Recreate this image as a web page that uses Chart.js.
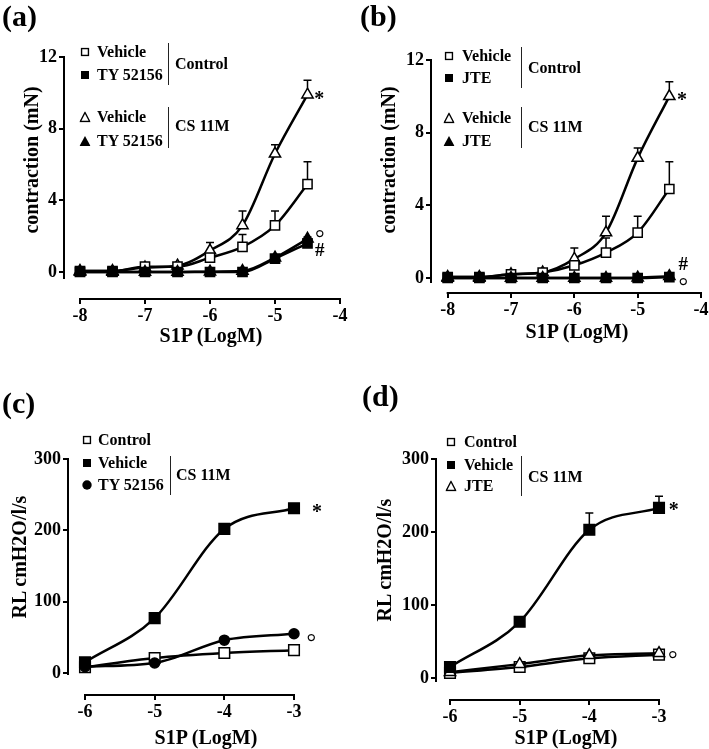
<!DOCTYPE html>
<html><head><meta charset="utf-8">
<script src="https://cdn.jsdelivr.net/npm/chart.js@4.4.1/dist/chart.umd.min.js"></script>
<style>
html,body{margin:0;padding:0;background:#fff;}
body{width:709px;height:749px;position:relative;overflow:hidden;font-family:'Liberation Serif','Times New Roman',serif;font-weight:bold;color:#000;}
canvas{position:absolute;}
.t{position:absolute;white-space:nowrap;line-height:1;transform:translateY(-50%);}
.c{position:absolute;white-space:nowrap;line-height:1;transform:translate(-50%,-50%);}
.r{position:absolute;white-space:nowrap;line-height:1;transform:translate(-50%,-50%) rotate(-90deg);}
.br{position:absolute;border-left:1.5px solid #222;width:0;}
.mk{position:absolute;transform:translate(-50%,-50%);}
</style></head><body>
<script>
// ---------------- data ----------------
const xContraction = [-8, -7.5, -7, -6.5, -6, -5.5, -5, -4.5];
const xTicksContraction = [-8, -7, -6, -5, -4];
const yTicksContraction = [0, 4, 8, 12];
const xRL = [-6, -5, -4, -3];
const xTicksRL = [-6, -5, -4, -3];
const yTicksRL = [0, 100, 200, 300];

// (a) TY 52156
const aControlVehicle    = [0.05, 0.05, 0.3, 0.3, 0.8, 1.4, 2.6, 4.9];
const aControlVehicleErr = [0, 0, 0.1, 0.1, 0.3, 0.7, 0.8, 1.25];
const aControlTY         = [0, 0, 0, 0, 0, 0, 0.75, 1.6];
const aControlTYErr      = [0, 0, 0, 0, 0, 0, 0.1, 0.15];
const aCSVehicle         = [0.05, 0.05, 0.25, 0.35, 1.2, 2.6, 6.6, 9.9];
const aCSVehicleErr      = [0, 0, 0.1, 0.1, 0.45, 0.8, 0.5, 0.8];
const aCSTY              = [0, 0, 0, 0, 0.02, 0.05, 0.8, 1.85];
const aCSTYErr           = [0, 0, 0, 0, 0, 0, 0.1, 0.1];

// (b) JTE
const bControlVehicle    = [0.05, 0.05, 0.2, 0.3, 0.7, 1.4, 2.5, 4.9];
const bControlVehicleErr = [0, 0, 0.1, 0.1, 0.3, 0.8, 0.9, 1.5];
const bControlJTE        = [0, 0, 0, 0, 0, 0, 0, 0.05];
const bCSVehicle         = [0.05, 0.05, 0.2, 0.3, 1.05, 2.5, 6.6, 10.0];
const bCSVehicleErr      = [0, 0, 0.1, 0.1, 0.6, 0.9, 0.55, 0.8];
const bCSJTE             = [0, 0, 0, 0, 0, 0, 0.02, 0.1];

// (c) RL, TY 52156
const cControl    = [8, 21, 28, 32];
const cVehicle    = [15, 77, 202, 231];
const cVehicleErr = [0, 2, 5, 3];
const cTY         = [9, 14, 46, 55];

// (d) RL, JTE
const dControl    = [7, 15, 27, 32];
const dVehicle    = [15, 77, 203, 233];
const dVehicleErr = [0, 3, 23, 16];
const dJTE        = [8, 19, 31, 34];

// significance marks (data coordinates)
const aMarks = [{t:'*', x:-4.32, y:9.9}, {t:'°', x:-4.31, y:2.25}, {t:'#', x:-4.31, y:1.3}];
const bMarks = [{t:'*', x:-4.30, y:10.0}, {t:'#', x:-4.28, y:0.85}, {t:'°', x:-4.28, y:-0.1}];
const cMarks = [{t:'*', x:-2.67, y:232}, {t:'°', x:-2.75, y:52}];
const dMarks = [{t:'*', x:-2.79, y:235}, {t:'°', x:-2.80, y:34}];

// ---------------- rendering ----------------
const FONT = "'Liberation Serif','Times New Roman',serif";
Chart.defaults.font.family = FONT;
Chart.defaults.color = '#000';

const axesPlugin = {
  id: 'prismAxes',
  beforeDatasetsDraw(chart, args, opts) {
    const {ctx, chartArea} = chart;
    const x = chart.scales.x, y = chart.scales.y;
    ctx.save();
    ctx.strokeStyle = '#000';
    ctx.lineWidth = 2;
    ctx.beginPath();
    ctx.moveTo(chartArea.left, chartArea.top - 1);
    ctx.lineTo(chartArea.left, y.getPixelForValue(opts.yLineEnd));
    ctx.stroke();
    const xt = opts.xTicks;
    ctx.beginPath();
    ctx.moveTo(x.getPixelForValue(xt[0]) - 1, chartArea.bottom);
    ctx.lineTo(x.getPixelForValue(xt[xt.length - 1]) + 1, chartArea.bottom);
    ctx.stroke();
    ctx.lineWidth = 1.5;
    chart.data.datasets.forEach(ds => {
      if (!ds.errors) return;
      ds.data.forEach((p, j) => {
        const e = ds.errors[j];
        if (!e) return;
        const px = x.getPixelForValue(p.x), py = y.getPixelForValue(p.y), pt = y.getPixelForValue(p.y + e);
        ctx.beginPath();
        ctx.moveTo(px, py); ctx.lineTo(px, pt);
        ctx.moveTo(px - 4, pt); ctx.lineTo(px + 4, pt);
        ctx.stroke();
      });
    });
    ctx.restore();
  }
};

function series(xs, ys, errs, style, filled, radius) {
  return {
    data: xs.map((x, i) => ({x: x, y: ys[i]})),
    errors: errs,
    pointStyle: style,
    pointRadius: radius,
    pointHoverRadius: radius,
    pointBackgroundColor: filled ? '#000' : '#fff',
    pointBorderColor: '#000',
    pointBorderWidth: 1.5,
    borderColor: '#000',
    borderWidth: 2.5,
    cubicInterpolationMode: 'monotone',
    fill: false,
    clip: false
  };
}

function el(cls, html, left, top, extra) {
  const d = document.createElement('div');
  d.className = cls;
  d.innerHTML = html;
  d.style.left = left + 'px';
  d.style.top = top + 'px';
  if (extra) Object.assign(d.style, extra);
  document.body.appendChild(d);
  return d;
}

function markerSVG(kind, s) {
  let shape;
  if (kind === 'sqOpen') shape = `<rect x="1" y="1" width="${s-2}" height="${s-2}" fill="#fff" stroke="#000" stroke-width="1.5"/>`;
  else if (kind === 'sqFill') shape = `<rect x="0.5" y="0.5" width="${s-1}" height="${s-1}" fill="#000"/>`;
  else if (kind === 'triOpen') shape = `<polygon points="${s/2},1 ${s-0.8},${s-1} 0.8,${s-1}" fill="#fff" stroke="#000" stroke-width="1.4"/>`;
  else if (kind === 'triFill') shape = `<polygon points="${s/2},0.5 ${s},${s-0.5} 0,${s-0.5}" fill="#000"/>`;
  else shape = `<circle cx="${s/2}" cy="${s/2}" r="${s/2-0.3}" fill="#000"/>`;
  return `<svg width="${s}" height="${s}" style="display:block">${shape}</svg>`;
}

const markStyle = {'*': {size: 20, dy: 3, w: 'bold'}, '°': {size: 24, dy: 6, w: 'normal'}, '#': {size: 19, dy: 0, w: 'bold'}};

function buildPanel(p) {
  const cv = document.createElement('canvas');
  cv.width = p.box.w; cv.height = p.box.h;
  cv.style.left = p.box.left + 'px'; cv.style.top = p.box.top + 'px';
  cv.style.width = p.box.w + 'px'; cv.style.height = p.box.h + 'px';
  document.body.appendChild(cv);
  const aL = p.area.left - p.box.left, aR = p.area.right - p.box.left;
  const aT = p.area.top - p.box.top, aB = p.area.bottom - p.box.top;
  const XH = 32;
  const kx = (p.x.v1 - p.x.v0) / (p.x.p1 - p.x.p0);
  const ky = (p.y.v1 - p.y.v0) / (p.y.p1 - p.y.p0);
  const xmin = p.x.v0 + (p.area.left - p.x.p0) * kx, xmax = p.x.v0 + (p.area.right - p.x.p0) * kx;
  const ymin = p.y.v0 + (p.area.bottom - p.y.p0) * ky, ymax = p.y.v0 + (p.area.top - p.y.p0) * ky;
  const yLineEnd = p.y.v0 + (p.yLineEndPx - p.y.p0) * ky;
  const tickFont = {family: FONT, size: 18, weight: 'bold'};
  const gridOpts = {display: true, drawOnChartArea: false, drawTicks: true, tickLength: 5, tickWidth: 2, tickColor: '#000', color: '#000', lineWidth: 2};
  const chart = new Chart(cv, {
    type: 'line',
    data: {datasets: p.datasets},
    options: {
      responsive: false, animation: false, devicePixelRatio: 1,
      events: [],
      layout: {padding: {left: 0, top: aT, right: p.box.w - aR, bottom: p.box.h - aB - XH}},
      plugins: {legend: {display: false}, tooltip: {enabled: false}, prismAxes: {yLineEnd: yLineEnd, xTicks: p.xTicks}},
      scales: {
        x: {
          type: 'linear', min: xmin, max: xmax,
          afterBuildTicks: s => { s.ticks = p.xTicks.map(v => ({value: v})); },
          afterFit: s => { s.height = XH; s.paddingLeft = 0; s.paddingRight = 0; },
          grid: gridOpts, border: {display: false},
          ticks: {font: tickFont, color: '#000', padding: 2, maxRotation: 0, autoSkip: false, callback: v => String(v)}
        },
        y: {
          type: 'linear', min: ymin, max: ymax,
          afterBuildTicks: s => { s.ticks = p.yTicks.map(v => ({value: v})); },
          afterFit: s => { s.width = aL; s.paddingTop = 0; s.paddingBottom = 0; },
          grid: gridOpts, border: {display: false},
          ticks: {font: tickFont, color: '#000', padding: 2, autoSkip: false, callback: v => String(v)}
        }
      }
    },
    plugins: [axesPlugin]
  });

  el('t', p.letter, p.letterPos[0], p.letterPos[1], {fontSize: '30px'});
  el('c', 'S1P (LogM)', p.xTitle[0], p.xTitle[1], {fontSize: '20px'});
  el('r', p.yTitleText, p.yTitle[0], p.yTitle[1], {fontSize: '20px'});

  const L = p.legend;
  L.items.forEach((it, i) => {
    el('mk', markerSVG(it.m, it.m.startsWith('tri') ? 11 : (it.m === 'dot' ? 10 : 9)), L.markerX, L.rows[i]);
    el('t', it.t, L.textX, L.rows[i], {fontSize: '16px'});
  });
  L.brackets.forEach(b => {
    el('br', '', b.x, b.y1, {height: (b.y2 - b.y1) + 'px'});
    el('t', b.label, b.lx, b.ly, {fontSize: '16px'});
  });

  p.marks.forEach(m => {
    const st = markStyle[m.t];
    const px = p.box.left + chart.scales.x.getPixelForValue(m.x);
    const py = p.box.top + chart.scales.y.getPixelForValue(m.y) + st.dy;
    el('c', m.t, px, py, {fontSize: st.size + 'px', fontWeight: st.w});
  });
  return chart;
}

const panels = [
  {
    letter: '(a)', letterPos: [2, 16],
    box: {left: 0, top: 0, w: 355, h: 345},
    area: {left: 64, right: 340, top: 57, bottom: 299},
    x: {v0: -8, p0: 80, v1: -4, p1: 340}, y: {v0: 0, p0: 272, v1: 12, p1: 57},
    yLineEndPx: 279, xTicks: xTicksContraction, yTicks: yTicksContraction,
    xTitle: [211, 335], yTitle: [31, 160], yTitleText: 'contraction (mN)',
    datasets: [
      series(xContraction, aControlTY, aControlTYErr, 'rect', true, 6.5),
      series(xContraction, aCSTY, aCSTYErr, 'triangle', true, 6.5),
      series(xContraction, aControlVehicle, aControlVehicleErr, 'rect', false, 6.5),
      series(xContraction, aCSVehicle, aCSVehicleErr, 'triangle', false, 6.5)
    ],
    legend: {markerX: 84.5, textX: 97, rows: [52, 75, 117, 141],
      items: [{m: 'sqOpen', t: 'Vehicle'}, {m: 'sqFill', t: 'TY 52156'}, {m: 'triOpen', t: 'Vehicle'}, {m: 'triFill', t: 'TY 52156'}],
      brackets: [{x: 168, y1: 43, y2: 85, label: 'Control', lx: 175, ly: 64}, {x: 168, y1: 107, y2: 148, label: 'CS 11M', lx: 175, ly: 126}]},
    marks: aMarks
  },
  {
    letter: '(b)', letterPos: [360, 16],
    box: {left: 355, top: 0, w: 354, h: 345},
    area: {left: 431, right: 706, top: 60, bottom: 293},
    x: {v0: -8, p0: 448, v1: -4, p1: 706}, y: {v0: 0, p0: 278, v1: 12, p1: 60},
    yLineEndPx: 283, xTicks: xTicksContraction, yTicks: yTicksContraction,
    xTitle: [577, 331], yTitle: [388, 160], yTitleText: 'contraction (mN)',
    datasets: [
      series(xContraction, bControlJTE, null, 'rect', true, 6.5),
      series(xContraction, bCSJTE, null, 'triangle', true, 6.5),
      series(xContraction, bControlVehicle, bControlVehicleErr, 'rect', false, 6.5),
      series(xContraction, bCSVehicle, bCSVehicleErr, 'triangle', false, 6.5)
    ],
    legend: {markerX: 449, textX: 462, rows: [56, 78, 118, 141],
      items: [{m: 'sqOpen', t: 'Vehicle'}, {m: 'sqFill', t: 'JTE'}, {m: 'triOpen', t: 'Vehicle'}, {m: 'triFill', t: 'JTE'}],
      brackets: [{x: 521, y1: 47, y2: 88, label: 'Control', lx: 528, ly: 68}, {x: 521, y1: 107, y2: 148, label: 'CS 11M', lx: 528, ly: 127}]},
    marks: bMarks
  },
  {
    letter: '(c)', letterPos: [2, 403],
    box: {left: 0, top: 375, w: 355, h: 374},
    area: {left: 68, right: 294, top: 459, bottom: 695},
    x: {v0: -6, p0: 85, v1: -3, p1: 294}, y: {v0: 0, p0: 673, v1: 300, p1: 459},
    yLineEndPx: 675, xTicks: xTicksRL, yTicks: yTicksRL,
    xTitle: [206, 737], yTitle: [19, 557], yTitleText: 'RL cmH2O/l/s',
    datasets: [
      series(xRL, cVehicle, cVehicleErr, 'rect', true, 7.5),
      series(xRL, cTY, null, 'circle', true, 5),
      series(xRL, cControl, null, 'rect', false, 7.5)
    ],
    legend: {markerX: 87, textX: 98, rows: [440, 463, 485],
      items: [{m: 'sqOpen', t: 'Control'}, {m: 'sqFill', t: 'Vehicle'}, {m: 'dot', t: 'TY 52156'}],
      brackets: [{x: 170, y1: 456, y2: 495, label: 'CS 11M', lx: 176, ly: 475}]},
    marks: cMarks
  },
  {
    letter: '(d)', letterPos: [362, 396],
    box: {left: 355, top: 375, w: 354, h: 374},
    area: {left: 436, right: 659, top: 459, bottom: 700},
    x: {v0: -6, p0: 450, v1: -3, p1: 659}, y: {v0: 0, p0: 678, v1: 300, p1: 459},
    yLineEndPx: 682, xTicks: xTicksRL, yTicks: yTicksRL,
    xTitle: [566, 737], yTitle: [384, 560], yTitleText: 'RL cmH2O/l/s',
    datasets: [
      series(xRL, dVehicle, dVehicleErr, 'rect', true, 7.5),
      series(xRL, dJTE, null, 'triangle', false, 6.5),
      series(xRL, dControl, null, 'rect', false, 7.5)
    ],
    legend: {markerX: 451, textX: 464, rows: [442, 465, 486],
      items: [{m: 'sqOpen', t: 'Control'}, {m: 'sqFill', t: 'Vehicle'}, {m: 'triOpen', t: 'JTE'}],
      brackets: [{x: 521, y1: 456, y2: 496, label: 'CS 11M', lx: 528, ly: 477}]},
    marks: dMarks
  }
];

panels.forEach(buildPanel);
</script>
</body></html>
